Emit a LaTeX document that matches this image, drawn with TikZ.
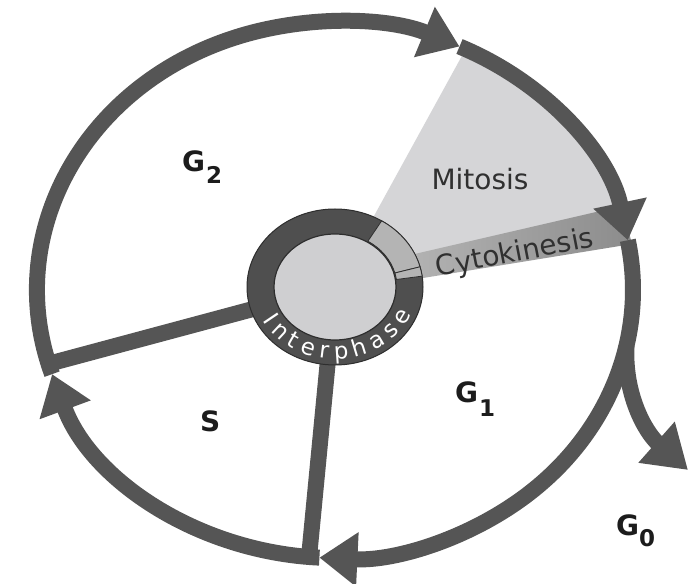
\documentclass[tikz,border=0pt]{standalone}
\usepackage{fontspec}
\setmainfont{DejaVu Sans}
\usetikzlibrary{arrows.meta,decorations.text}
\definecolor{ringgray}{HTML}{555555}
\definecolor{mitfill}{HTML}{D5D5D7}
\definecolor{stripL}{HTML}{B8B8B8}
\definecolor{stripR}{HTML}{8C8C8C}
\definecolor{inring}{HTML}{4F4F4F}
\definecolor{ringline}{HTML}{2E2E2E}
\definecolor{inseg}{HTML}{B4B4B4}
\definecolor{diskfill}{HTML}{CFCFD1}
\definecolor{labtext}{HTML}{1C1C1C}
\definecolor{softtext}{HTML}{303030}
\newcommand\ipfont{\fontsize{23}{23}\selectfont\color{white}}
\newcommand\subsz{\fontsize{23}{23}\selectfont}
\begin{document}
\begin{tikzpicture}[x=1pt,y=1pt,
  ring/.style={draw=ringgray, line width=16pt},
  spoke/.style={draw=ringgray, line width=16pt},
  tipstyle/.style={-{Triangle[length=38pt,width=52pt]}},
  lab/.style={font=\fontsize{28}{28}\selectfont\bfseries, text=labtext, inner sep=0pt},
  phase/.style={font=\fontsize{28}{28}\selectfont, text=softtext, inner sep=0pt}]
\path[use as bounding box] (0,0) rectangle (689,584);
\fill[white] (0,0) rectangle (689,584);
% centres
\coordinate (C) at (335,294);
\coordinate (I) at (335,297);
% points on the outer ring
\coordinate (rA) at ([shift={(C)}]65.3:298pt and 268pt);
\coordinate (rB) at ([shift={(C)}]10.7:298pt and 268pt);
\coordinate (rC) at ([shift={(C)}]-93:298pt and 268pt);
\coordinate (rD) at ([shift={(C)}]198.3:298pt and 268pt);
\coordinate (rW1) at ([shift={(C)}]64:298pt and 268pt);
\coordinate (sL) at ([shift={(C)}]196:298pt and 268pt);
\coordinate (sB) at ([shift={(C)}]265:298pt and 268pt);
\coordinate (rG) at ([shift={(C)}]-12:298pt and 268pt);
\coordinate (g0tip) at (688,114);
% mitosis wedge
\fill[mitfill] (I) -- (rW1) arc[start angle=64,end angle=14,x radius=298pt,y radius=268pt] -- (380,310) -- cycle;
% cytokinesis strip
\shade[left color=stripL, right color=stripR] (380,322) -- (622,378) -- (632,340) -- (380,299) -- cycle;
% spokes
\draw[spoke] (I) -- (sL);
\draw[spoke] (I) -- (sB);
% outer ring with arrows
\draw[ring,tipstyle] (rA) arc[start angle=65.3,end angle=10.7,x radius=298pt,y radius=268pt];
\draw[ring,tipstyle] (rB) arc[start angle=10.7,end angle=-93,x radius=298pt,y radius=268pt];
\draw[ring,tipstyle] (rC) arc[start angle=-93,end angle=-161.7,x radius=298pt,y radius=268pt];
\draw[ring,tipstyle] (rD) arc[start angle=198.3,end angle=65.3,x radius=298pt,y radius=268pt];
% G0 branch
\draw[ring,-{Triangle[length=42pt,width=52pt]}] (rG) .. controls (624,190) and (645,152) .. (g0tip);
% inner ring
\fill[inring, draw=ringline, line width=1pt] (I) ellipse[x radius=88pt, y radius=78pt];
\fill[inseg, draw=ringline, line width=0.8pt] ([shift={(I)}]58:88pt and 78pt) arc[start angle=58,end angle=15,x radius=88pt,y radius=78pt] -- ([shift={(I)}]15:62pt and 54pt) arc[start angle=15,end angle=58,x radius=62pt,y radius=54pt] -- cycle;
\fill[inseg, draw=ringline, line width=0.8pt] ([shift={(I)}]15:88pt and 78pt) arc[start angle=15,end angle=8,x radius=88pt,y radius=78pt] -- ([shift={(I)}]8:62pt and 54pt) arc[start angle=8,end angle=15,x radius=62pt,y radius=54pt] -- cycle;
\fill[diskfill, draw=ringline, line width=1.2pt] (I) ellipse[x radius=61pt, y radius=53pt];
\path[decorate, decoration={text along path, text={|\ipfont|Interphase}, text align={fit to path}}]
  ([shift={(I)}]208:82pt and 72pt) arc[start angle=208,end angle=338,x radius=82pt,y radius=72pt];
% labels
\node[lab, anchor=base west] (g2) at (182,412) {G\hspace{1pt}\raisebox{-12pt}{\subsz 2}};
\node[lab, anchor=base west] (g1) at (455,181) {G\hspace{1pt}\raisebox{-14pt}{\subsz 1}};
\node[lab, anchor=base west] (g0) at (616,48) {G\hspace{0pt}\raisebox{-11pt}{\subsz 0}};
\node[lab, anchor=base west] (s) at (200,152) {S};
\node[phase, anchor=base] (mit) at (480,394) {Mitosis};
\node[phase, rotate=11] (cyt) at (515,330) {Cytokinesis};
\end{tikzpicture}
\end{document}
